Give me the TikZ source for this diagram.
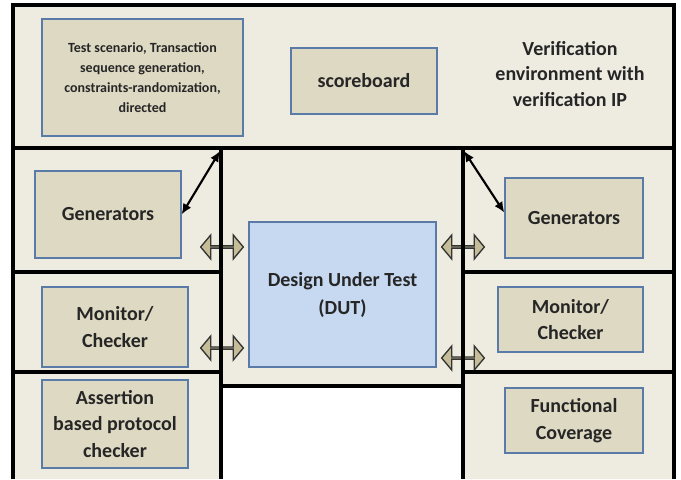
\documentclass[tikz,border=0pt]{standalone}
\usepackage{fontspec}
\setmainfont{Carlito}
\usetikzlibrary{arrows.meta,shapes.arrows,positioning}
\definecolor{bgtan}{HTML}{EEECE1}
\definecolor{boxtan}{HTML}{DDD9C3}
\definecolor{boxedge}{HTML}{5A7AA8}
\definecolor{dutblue}{HTML}{C6D9F1}
\definecolor{arrtan}{HTML}{C4BD97}
\definecolor{ink}{HTML}{262626}
\tikzset{
  tanbox/.style={draw=boxedge,fill=boxtan,line width=0.9pt,inner sep=2pt,
    font=\fontsize{15}{20}\selectfont\bfseries\color{ink},align=center},
  dutbox/.style={tanbox,fill=dutblue,font=\fontsize{15}{21}\selectfont\bfseries\color{ink}},
  busarr/.style={double arrow,draw=black!80,fill=arrtan,line width=1pt,inner sep=0pt,
    minimum height=32pt,minimum width=18pt,double arrow head extend=5pt,double arrow tip angle=100},
  linkarr/.style={{Latex[length=8pt,width=7pt]}-{Latex[length=8pt,width=7pt]},line width=1.6pt},
  wall/.style={line width=2.6pt},
}

\begin{document}
\begin{tikzpicture}[x=0.75pt,y=-0.75pt]
  \useasboundingbox (0,0) rectangle (681,479);
  % background of the environment
  \fill[bgtan] (13,5) -- (674,5) -- (674,479) -- (463,479) -- (463,386)
    -- (221,386) -- (221,479) -- (13,479) -- cycle;

  % top row
  \node[tanbox,minimum width=150.75pt,minimum height=87.75pt,
    font=\fontsize{10.5}{15}\selectfont\bfseries\color{ink}] (scen) at (142.5,77.5)
    {Test scenario, Transaction\\sequence generation,\\constraints-randomization,\\directed};
  \node[tanbox,minimum width=109.5pt,minimum height=49.5pt] (score) at (364,81) {scoreboard};
  \node[align=center,font=\fontsize{15}{19}\selectfont\bfseries\color{ink}] (venv) at (570,74)
    {Verification\\environment with\\verification IP};

  % left column
  \node[tanbox,minimum width=109.5pt,minimum height=65.25pt] (genL) at (108,214.5) {Generators};
  \node[tanbox,minimum width=109.5pt,minimum height=60pt] (monL) at (115,327) {Monitor/\\Checker};
  \node[tanbox,minimum width=109.5pt,minimum height=66pt] (asrt) at (115,424)
    {Assertion\\based protocol\\checker};

  % right column
  \node[tanbox,minimum width=103.5pt,minimum height=60pt] (genR) at (574,218) {Generators};
  \node[tanbox,minimum width=108.75pt,minimum height=48.75pt] (monR) at (570.5,319.5) {Monitor/\\Checker};
  \node[tanbox,minimum width=103.5pt,minimum height=48.75pt] (fcov) at (574,420.5)
    {Functional\\Coverage};

  % DUT
  \node[dutbox,minimum width=140.25pt,minimum height=108.75pt] (dut) at (342.5,294.5)
    {Design Under Test\\(DUT)};

  % bus arrows
  \node[busarr] (busL1) at (222,247) {};
  \node[busarr] (busL2) at (222,348) {};
  \node[busarr] (busR1) at (463,247) {};
  \node[busarr] (busR2) at (463,358) {};

  % walls
  \draw[wall] (13,479) -- (13,5) -- (674,5) -- (674,479);
  \draw[wall] (13,148) -- (674,148);
  \draw[wall] (221,148) -- (221,479);
  \draw[wall] (463,148) -- (463,479);
  \draw[wall] (221,386) -- (463,386);
  \draw[wall] (13,272) -- (221,272);
  \draw[wall] (13,372) -- (221,372);
  \draw[wall] (463,272) -- (674,272);
  \draw[wall] (463,372) -- (674,372);

  % links to the top row
  \coordinate (jL) at (220,151);
  \coordinate (jR) at (464,151);
  \draw[linkarr] (jL) -- (genL.east);
  \draw[linkarr] (jR) -- ([yshift=4pt]genR.west);
\end{tikzpicture}
\end{document}
